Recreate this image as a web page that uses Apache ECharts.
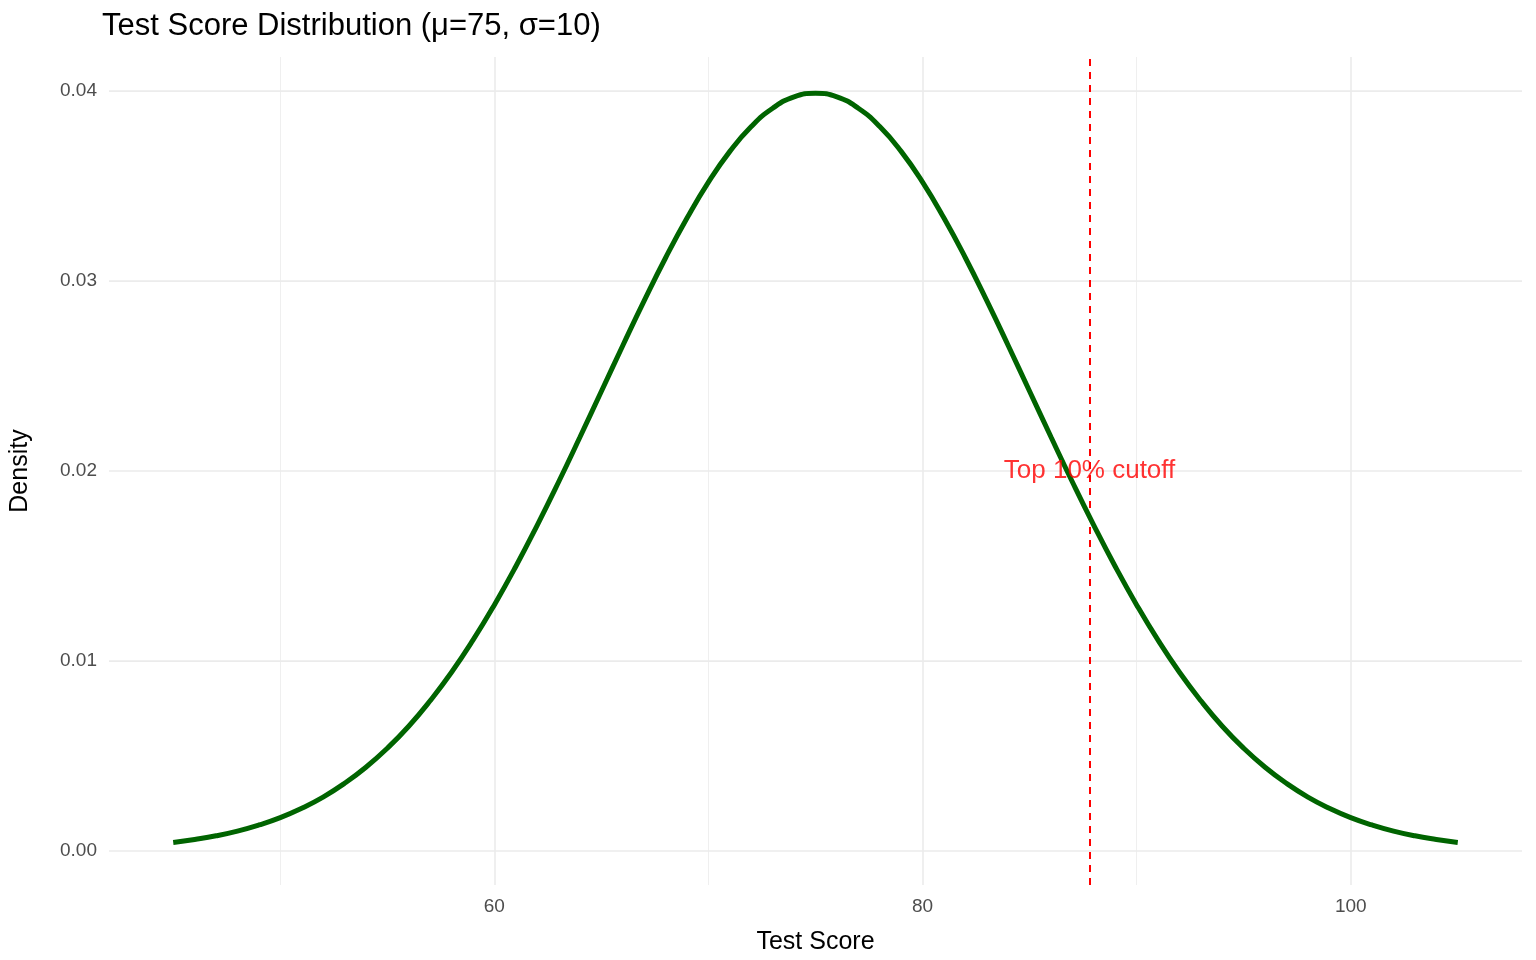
<!DOCTYPE html>
<html><head><meta charset="utf-8">
<script src="https://cdn.jsdelivr.net/npm/echarts@6/dist/echarts.min.js"></script>
<style>html,body{margin:0;padding:0;background:#fff}#c{width:1536px;height:960px}</style>
</head><body><div id="c"></div>
<script>
const scores = [45,46,47,48,49,50,51,52,53,54,55,56,57,58,59,60,61,62,63,64,65,66,67,68,69,70,71,72,73,74,75,76,77,78,79,80,81,82,83,84,85,86,87,88,89,90,91,92,93,94,95,96,97,98,99,100,101,102,103,104,105];
const leftHalf = [0.00044,0.00060,0.00079,0.00104,0.00136,0.00175,0.00224,0.00283,0.00355,0.00440,0.00540,0.00656,0.00790,0.00940,0.01109,0.01295,0.01497,0.01714,0.01942,0.02179,0.02420,0.02661,0.02897,0.03123,0.03332,0.03521,0.03683,0.03814,0.03910,0.03970];
const peak = [0.03989];
const density = leftHalf.concat(peak, leftHalf.slice().reverse());
const xTicks = [60,80,100];
const xMinor = [50,70,90];
const yTicks = [0,0.01,0.02,0.03,0.04];
const yMinor = [0.005,0.015,0.025,0.035];
const cutoff = 87.8;
const cutoffLabelY = 0.02;

const FF = 'Liberation Sans';
const chart = echarts.init(document.getElementById('c'));
const gridLines = [];
xMinor.forEach(v=>gridLines.push({xAxis:v,lineStyle:{color:'#ebebeb',width:0.8,type:'solid'}}));
yMinor.forEach(v=>gridLines.push({yAxis:v,lineStyle:{color:'#ebebeb',width:0.8,type:'solid'}}));
xTicks.forEach(v=>gridLines.push({xAxis:v,lineStyle:{color:'#ebebeb',width:1.6,type:'solid'}}));
yTicks.forEach(v=>gridLines.push({yAxis:v,lineStyle:{color:'#ebebeb',width:1.6,type:'solid'}}));
chart.setOption({
  animation:false,
  title:{text:'Test Score Distribution (μ=75, σ=10)',left:97,top:6,textStyle:{fontFamily:FF,fontSize:31,fontWeight:'normal',color:'#000'}},
  grid:{left:100,right:14,top:57,bottom:73},
  xAxis:{type:'value',min:42,max:108,name:'Test Score',nameLocation:'middle',nameGap:45,
    nameTextStyle:{fontFamily:FF,fontSize:25,color:'#000'},
    splitLine:{show:false},axisLine:{show:false},axisTick:{show:false},
    axisLabel:{customValues:xTicks,color:'#4d4d4d',fontSize:19,fontFamily:FF,margin:12}},
  yAxis:{type:'value',min:-0.0018,max:0.0418,name:'Density',nameLocation:'middle',nameGap:76,
    nameTextStyle:{fontFamily:FF,fontSize:25,color:'#000'},
    splitLine:{show:false},axisLine:{show:false},axisTick:{show:false},
    axisLabel:{customValues:yTicks,color:'#4d4d4d',fontSize:19,fontFamily:FF,margin:12,formatter:v=>v.toFixed(2)}},
  series:[
    {type:'line',data:[],silent:true,z:1,markLine:{silent:true,symbol:'none',label:{show:false},animation:false,data:gridLines}},
    {type:'line',data:scores.map((x,i)=>[x,density[i]]),smooth:true,showSymbol:false,
      lineStyle:{color:'#006400',width:5},z:10},
    {type:'line',data:[],z:11,markLine:{silent:true,symbol:'none',label:{show:false},
      data:[{xAxis:cutoff}],lineStyle:{color:'#ff0000',width:2,type:[7,6]}}},
    {type:'scatter',data:[[cutoff,cutoffLabelY]],symbolSize:0,z:12,
      label:{show:true,position:'inside',formatter:'Top 10% cutoff',color:'#ff0000',fontSize:26,fontFamily:FF}}
  ]
});
</script></body></html>
